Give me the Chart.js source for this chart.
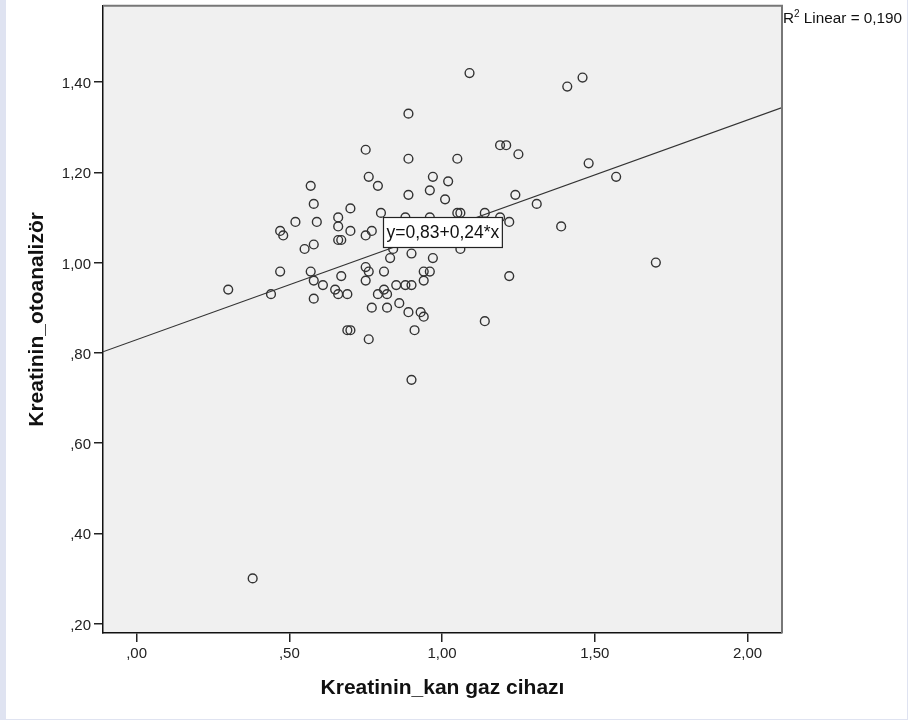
<!DOCTYPE html>
<html><head><meta charset="utf-8">
<script src="https://cdn.jsdelivr.net/npm/chart.js@4.4.0/dist/chart.umd.min.js"></script>
<style>
html,body{margin:0;padding:0;background:#dfe3f1;width:908px;height:720px;overflow:hidden;}
#panel{position:absolute;left:6px;top:0;width:901px;height:719px;background:#fff;}
#wrap{position:absolute;left:0;top:0;width:908px;height:720px;}
</style></head><body>
<div id="panel"></div>
<div id="wrap"><canvas id="c" width="908" height="720"></canvas></div>
<script>
const xValues = [0.30,0.38,0.44,0.47,0.48,0.47,0.52,0.55,0.57,0.58,0.59,0.58,0.57,0.58,0.61,0.58,0.65,0.66,0.69,0.67,0.66,0.66,0.66,0.67,0.70,0.70,0.69,0.70,0.75,0.76,0.79,0.80,0.75,0.77,0.75,0.76,0.75,0.77,0.76,0.79,0.81,0.82,0.81,0.82,0.83,0.84,0.85,0.86,0.88,0.90,0.89,0.88,0.90,0.91,0.90,0.93,0.94,0.94,0.94,0.96,0.97,0.96,0.89,0.89,0.89,0.96,0.97,1.01,1.02,1.05,1.05,1.06,1.06,1.09,1.14,1.14,1.19,1.21,1.19,1.22,1.22,1.24,1.25,1.31,1.39,1.41,1.46,1.48,1.57,1.70];
const yValues = [0.94,0.30,0.93,1.07,1.06,0.98,1.09,1.03,1.17,1.13,1.09,1.04,0.98,0.96,0.95,0.92,0.94,0.93,0.93,0.97,1.10,1.08,1.05,1.05,1.07,1.12,0.85,0.85,1.25,1.19,1.17,1.11,1.06,1.07,0.99,0.98,0.96,0.90,0.83,0.93,0.94,0.93,0.98,0.90,1.01,1.03,0.95,0.91,0.95,0.95,0.89,1.10,1.02,0.85,0.74,0.89,0.88,0.96,0.98,0.98,1.01,1.10,1.33,1.23,1.15,1.16,1.19,1.14,1.18,1.23,1.11,1.11,1.03,1.42,1.11,0.87,1.26,1.26,1.10,1.09,0.97,1.15,1.24,1.13,1.08,1.39,1.41,1.22,1.19,1.00];
const xTicks = [0, 0.5, 1, 1.5, 2];
const xTickLabels = [',00', ',50', '1,00', '1,50', '2,00'];
const yTicks = [0.2, 0.4, 0.6, 0.8, 1.0, 1.2, 1.4];
const yTickLabels = [',20', ',40', ',60', ',80', '1,00', '1,20', '1,40'];
const fitIntercept = 0.829;
const fitSlope = 0.2435;
const equationText = 'y=0,83+0,24*x';
const r2Text = '0,190';
const xTitle = 'Kreatinin_kan gaz cihazı';
const yTitle = 'Kreatinin_otoanalizör';
const xMin = -0.11, xMax = 2.113, yMin = 0.179, yMax = 1.569;
const eqAnchorX = 0.807, eqAnchorY = 1.067;

const points = xValues.map((x, i) => ({x: x, y: yValues[i]}));
const fitLine = [xMin, xMax].map(x => ({x: x, y: fitIntercept + fitSlope * x}));
const FONT = '"Liberation Sans", Arial, sans-serif';

const deco = {
  id: 'deco',
  beforeDraw(chart) {
    const {ctx, chartArea: a} = chart;
    ctx.save();
    ctx.fillStyle = '#f0f0f0';
    ctx.fillRect(a.left, a.top, a.right - a.left, a.bottom - a.top);
    ctx.restore();
  },
  afterDatasetsDraw(chart) {
    const {ctx} = chart;
    const xs = chart.scales.x, ys = chart.scales.y;
    ctx.save();
    ctx.font = '17.5px ' + FONT;
    const w = ctx.measureText(equationText).width;
    const left = Math.round(xs.getPixelForValue(eqAnchorX)) + 0.5;
    const cy = ys.getPixelForValue(eqAnchorY);
    const h = 30;
    const top = Math.round(cy - h / 2) + 0.5;
    ctx.fillStyle = '#fff';
    ctx.fillRect(left, top, w + 6, h);
    ctx.strokeStyle = '#222';
    ctx.lineWidth = 1.2;
    ctx.strokeRect(left, top, w + 6, h);
    ctx.fillStyle = '#111';
    ctx.textBaseline = 'middle';
    ctx.textAlign = 'left';
    ctx.fillText(equationText, left + 3, cy + 1);
    ctx.restore();
  },
  afterDraw(chart) {
    const {ctx, chartArea: a} = chart;
    ctx.save();
    ctx.strokeStyle = '#777';
    ctx.lineWidth = 2;
    ctx.beginPath();
    ctx.moveTo(a.left, a.top);
    ctx.lineTo(a.right, a.top);
    ctx.lineTo(a.right, a.bottom);
    ctx.stroke();
    ctx.fillStyle = '#111';
    ctx.textBaseline = 'alphabetic';
    ctx.textAlign = 'left';
    let x = a.right + 1;
    const base = 23;
    ctx.font = '15.3px ' + FONT;
    ctx.fillText('R', x, base);
    x += ctx.measureText('R').width;
    ctx.font = '10px ' + FONT;
    ctx.fillText('2', x, base - 6);
    x += ctx.measureText('2').width;
    ctx.font = '15.3px ' + FONT;
    ctx.fillText(' Linear = ' + r2Text, x, base);
    ctx.restore();
  }
};

new Chart(document.getElementById('c'), {
  type: 'scatter',
  data: {
    datasets: [
      {
        type: 'line',
        data: fitLine,
        borderColor: '#333',
        borderWidth: 1.2,
        pointRadius: 0,
        fill: false,
        order: 2
      },
      {
        data: points,
        pointStyle: 'circle',
        pointRadius: 4.4,
        borderWidth: 1.4,
        borderColor: '#333',
        backgroundColor: 'rgba(0,0,0,0)',
        order: 1
      }
    ]
  },
  options: {
    responsive: false,
    devicePixelRatio: 1,
    animation: false,
    events: [],
    layout: {padding: {left: 0, top: 4, right: 126, bottom: 0}},
    plugins: {legend: {display: false}, tooltip: {enabled: false}},
    scales: {
      x: {
        type: 'linear',
        min: xMin, max: xMax,
        afterBuildTicks: s => { s.ticks = xTicks.map(v => ({value: v})); },
        afterFit: s => { s.height = 87; s.paddingLeft = 0; s.paddingRight = 0; },
        grid: {drawOnChartArea: false, drawTicks: true, tickLength: 9, color: '#222', lineWidth: 1.5},
        border: {display: true, color: '#111', width: 1.5},
        ticks: {
          padding: 3,
          color: '#222',
          font: {family: FONT, size: 15},
          maxRotation: 0,
          autoSkip: false,
          callback: (v) => { const i = xTicks.indexOf(v); return i >= 0 ? xTickLabels[i] : ''; }
        },
        title: {display: true, text: xTitle, color: '#111', font: {family: FONT, size: 21, weight: 'bold'}, padding: {top: 0, bottom: 19}}
      },
      y: {
        type: 'linear',
        min: yMin, max: yMax,
        afterBuildTicks: s => { s.ticks = yTicks.map(v => ({value: v})); },
        afterFit: s => { s.width = 103; s.paddingTop = 0; s.paddingBottom = 0; },
        grid: {drawOnChartArea: false, drawTicks: true, tickLength: 9, color: '#222', lineWidth: 1.5},
        border: {display: true, color: '#111', width: 1.5},
        ticks: {
          padding: 3,
          labelOffset: 2,
          color: '#222',
          font: {family: FONT, size: 15},
          autoSkip: false,
          callback: (v) => { const i = yTicks.findIndex(t => Math.abs(t - v) < 1e-9); return i >= 0 ? yTickLabels[i] : ''; }
        },
        title: {display: true, text: yTitle, color: '#111', font: {family: FONT, size: 21, weight: 'bold'}, padding: {top: 25, bottom: 0}}
      }
    }
  },
  plugins: [deco]
});
</script>
</body></html>
